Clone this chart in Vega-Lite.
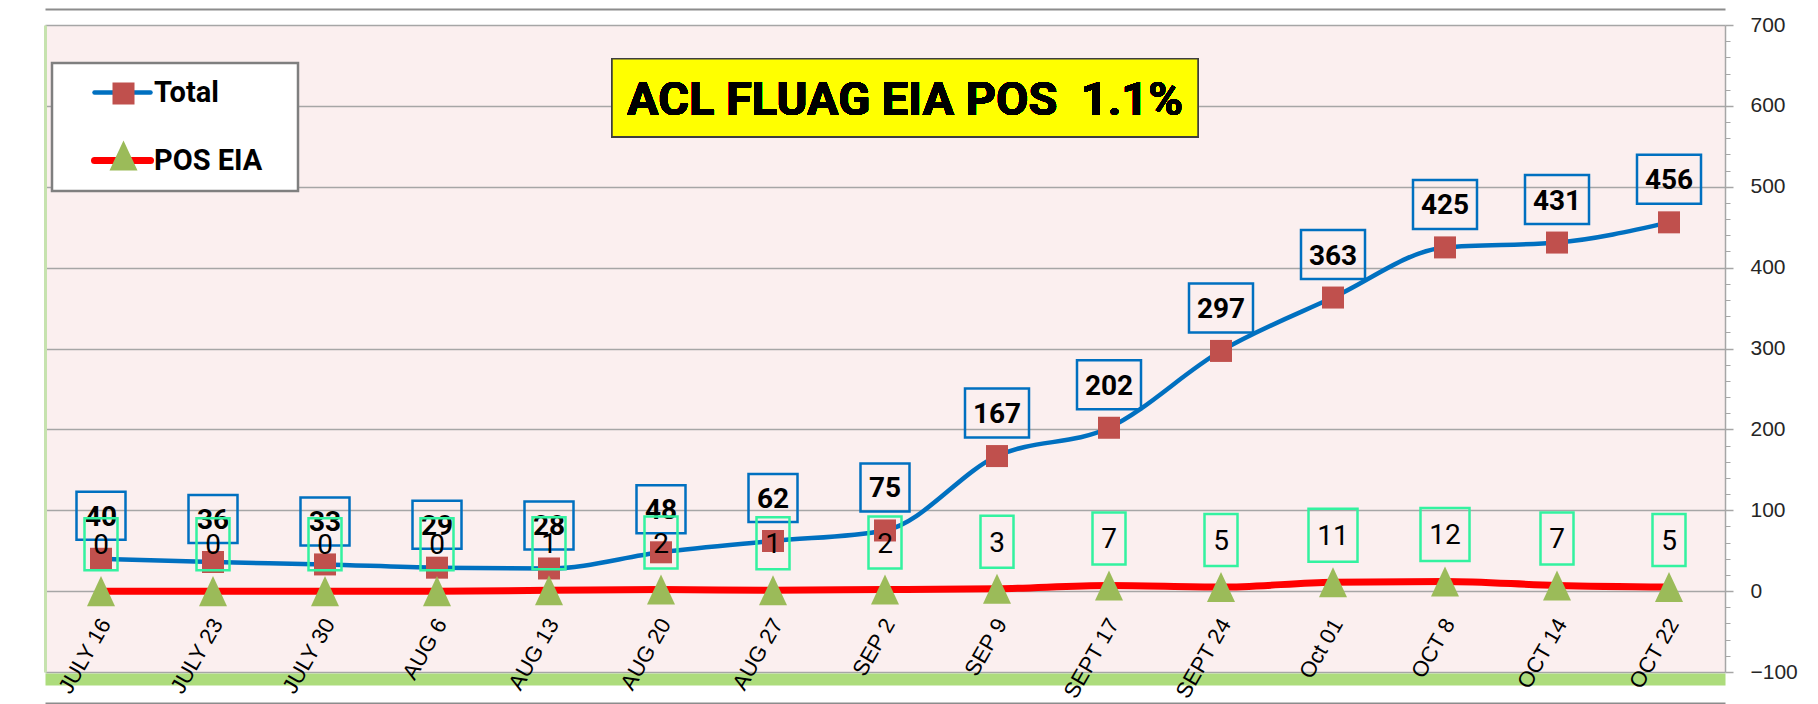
{
  "$schema": "https://vega.github.io/schema/vega-lite/v6.json",
  "width": 1680,
  "height": 647,
  "autosize": {"type": "none"},
  "padding": {"left": 45, "top": 25, "right": 93, "bottom": 32},
  "background": "#FFFFFF",
  "config": {"view": {"fill": "#FBEFEF", "stroke": null}, "font": "Liberation Sans"},
  "data": {
    "values": [
      {"date": "JULY 16", "series": "Total", "value": 40},
      {"date": "JULY 23", "series": "Total", "value": 36},
      {"date": "JULY 30", "series": "Total", "value": 33},
      {"date": "AUG 6", "series": "Total", "value": 29},
      {"date": "AUG 13", "series": "Total", "value": 28},
      {"date": "AUG 20", "series": "Total", "value": 48},
      {"date": "AUG 27", "series": "Total", "value": 62},
      {"date": "SEP 2", "series": "Total", "value": 75},
      {"date": "SEP 9", "series": "Total", "value": 167},
      {"date": "SEPT 17", "series": "Total", "value": 202},
      {"date": "SEPT 24", "series": "Total", "value": 297},
      {"date": "Oct 01", "series": "Total", "value": 363},
      {"date": "OCT 8", "series": "Total", "value": 425},
      {"date": "OCT 14", "series": "Total", "value": 431},
      {"date": "OCT 22", "series": "Total", "value": 456},
      {"date": "JULY 16", "series": "POS EIA", "value": 0},
      {"date": "JULY 23", "series": "POS EIA", "value": 0},
      {"date": "JULY 30", "series": "POS EIA", "value": 0},
      {"date": "AUG 6", "series": "POS EIA", "value": 0},
      {"date": "AUG 13", "series": "POS EIA", "value": 1},
      {"date": "AUG 20", "series": "POS EIA", "value": 2},
      {"date": "AUG 27", "series": "POS EIA", "value": 1},
      {"date": "SEP 2", "series": "POS EIA", "value": 2},
      {"date": "SEP 9", "series": "POS EIA", "value": 3},
      {"date": "SEPT 17", "series": "POS EIA", "value": 7},
      {"date": "SEPT 24", "series": "POS EIA", "value": 5},
      {"date": "Oct 01", "series": "POS EIA", "value": 11},
      {"date": "OCT 8", "series": "POS EIA", "value": 12},
      {"date": "OCT 14", "series": "POS EIA", "value": 7},
      {"date": "OCT 22", "series": "POS EIA", "value": 5}
    ]
  },
  "resolve": {"axis": {"x": "independent", "y": "independent"}},
  "layer": [
    {
      "mark": {"type": "line", "interpolate": "monotone", "strokeCap": "round", "strokeJoin": "round"},
      "encoding": {
        "x": {"field": "date", "type": "nominal",
          "scale": {"type": "point", "padding": 0.5, "domain": ["JULY 16","JULY 23","JULY 30","AUG 6","AUG 13","AUG 20","AUG 27","SEP 2","SEP 9","SEPT 17","SEPT 24","Oct 01","OCT 8","OCT 14","OCT 22"]},
          "axis": {"orient": "bottom", "offset": -52, "domain": false, "ticks": false, "grid": false, "labelAngle": -60, "labelAlign": "right", "labelBaseline": "middle", "labelFont": "Liberation Sans", "labelFontSize": 22, "labelColor": "#000000", "labelPadding": 0, "labelOffset": 4, "labelOverlap": false, "labelBound": false, "labelLimit": 300, "title": null, "zindex": 1}},
        "y": {"field": "value", "type": "quantitative", "scale": {"domain": [-100, 700], "nice": false, "zero": false},
          "axis": {"orient": "right", "values": [-100, 0, 100, 200, 300, 400, 500, 600, 700], "grid": true, "gridColor": "#A6A6A6", "gridWidth": 1.5, "domain": true, "domainColor": "#A6A6A6", "domainWidth": 1.5, "ticks": true, "tickSize": 8, "tickColor": "#A6A6A6", "tickWidth": 1.5, "labelFont": "Liberation Sans", "labelFontSize": 21, "labelColor": "#262626", "labelPadding": 17, "title": null}},
        "color": {"field": "series", "type": "nominal", "sort": ["Total", "POS EIA"], "scale": {"range": ["#0070C0", "#FF0000"]},
          "legend": {"orient": "none", "legendX": 7, "legendY": 38, "title": ".", "titleOrient": "right", "titleFontSize": 1, "titleOpacity": 0, "titlePadding": 20,
            "padding": 15, "rowPadding": 38,
            "symbolType": "M-1,0H1", "symbolSize": 3136, "symbolOffset": 41, "symbolStrokeWidth": 1,
            "labelOffset": 17, "labelFont": "Roboto", "labelFontSize": 29, "labelFontWeight": "bold", "labelColor": "#000000", "labelLimit": 400,
            "fillColor": "#FFFFFF", "strokeColor": "#7F7F7F",
            "encode": {"symbols": {"update": {"strokeWidth": {"signal": "datum.value === 'Total' ? 4.5 : 7"}, "strokeCap": {"value": "round"}, "fill": {"value": "transparent"}}}, "legend": {"update": {"strokeWidth": {"value": 2.5}}}}}},
        "strokeWidth": {"condition": {"test": "datum.series === 'Total'", "value": 4.5}, "value": 7}
      }
    },
    {
      "mark": {"type": "point", "filled": true, "size": 3136, "opacity": 1, "strokeWidth": 0},
      "encoding": {
        "x": {"field": "date", "type": "nominal",
          "axis": {"orient": "bottom", "offset": 7, "domain": true, "domainColor": "#92D050", "domainWidth": 12, "domainOpacity": 0.75, "ticks": false, "labels": false, "grid": false, "title": null}},
        "y": {"field": "value", "type": "quantitative",
          "axis": {"orient": "right", "values": [-80,-60,-40,-20,20,40,60,80,120,140,160,180,220,240,260,280,320,340,360,380,420,440,460,480,520,540,560,580,620,640,660,680], "domain": false, "grid": false, "labels": false, "ticks": true, "tickSize": 5, "tickColor": "#A6A6A6", "tickWidth": 1, "title": null}},
        "fill": {"field": "series", "type": "nominal", "scale": {"domain": ["Total", "POS EIA"], "range": ["#C0504D", "#9BBB59"]},
          "legend": {"orient": "none", "legendX": 7, "legendY": 38, "title": null, "padding": 2, "rowPadding": 18,
            "symbolSize": 3136, "symbolOffset": 41, "symbolStrokeWidth": 1,
            "labelOffset": 40, "labelFont": "Roboto", "labelFontSize": 29, "labelFontWeight": "bold", "labelOpacity": 0, "labelLimit": 400,
            "encode": {"symbols": {"update": {"strokeWidth": {"value": 0}}}}}},
        "shape": {"field": "series", "type": "nominal", "scale": {"domain": ["Total", "POS EIA"], "range": ["M-0.393,-0.393H0.393V0.393H-0.393Z", "M0,-0.536L0.5,0.536L-0.5,0.536Z"]},
          "legend": {"orient": "none", "legendX": 7, "legendY": 38, "title": null, "padding": 2, "rowPadding": 18,
            "symbolSize": 3136, "symbolOffset": 41, "symbolStrokeWidth": 1,
            "labelOffset": 40, "labelFont": "Roboto", "labelFontSize": 29, "labelFontWeight": "bold", "labelOpacity": 0, "labelLimit": 400,
            "encode": {"symbols": {"update": {"strokeWidth": {"value": 0}}}}}}
      }
    },
    {
      "transform": [{"filter": "datum.series === 'Total'"}],
      "mark": {"type": "point", "filled": false, "stroke": "#0070C0", "strokeWidth": 2.5, "size": 4, "opacity": 1, "yOffset": -43},
      "encoding": {
        "x": {"field": "date", "type": "nominal",
          "axis": {"orient": "top", "offset": 16, "domain": true, "domainColor": "#8C8C8C", "domainWidth": 2, "ticks": false, "labels": false, "grid": false, "title": null}},
        "y": {"field": "value", "type": "quantitative",
          "axis": {"orient": "left", "domain": true, "domainColor": "#C6E2AE", "domainWidth": 3, "ticks": false, "labels": false, "grid": false, "title": null}},
        "shape": {"condition": {"test": "datum.value >= 100", "value": "M-32,-24.5H32V24.5H-32Z"}, "value": "M-24.5,-24H24.5V24H-24.5Z"}
      }
    },
    {
      "transform": [{"filter": "datum.series === 'Total'"}],
      "mark": {"type": "text", "font": "Roboto", "fontSize": 28, "fontWeight": "bold", "align": "center", "baseline": "middle", "yOffset": -41, "color": "#000000"},
      "encoding": {
        "x": {"field": "date", "type": "nominal",
          "axis": {"orient": "bottom", "offset": 31, "domain": true, "domainColor": "#8C8C8C", "domainWidth": 2, "ticks": false, "labels": false, "grid": false, "title": null}},
        "y": {"field": "value", "type": "quantitative", "axis": null},
        "text": {"field": "value", "type": "quantitative"}
      }
    },
    {
      "transform": [{"filter": "datum.series === 'POS EIA'"}],
      "mark": {"type": "point", "filled": false, "stroke": "#33F2A0", "strokeWidth": 2.5, "size": 4, "opacity": 1, "yOffset": -47},
      "encoding": {
        "x": {"field": "date", "type": "nominal", "axis": null},
        "y": {"field": "value", "type": "quantitative", "axis": null},
        "shape": {"condition": {"test": "datum.value >= 10", "value": "M-24.5,-26.5H24.5V26.5H-24.5Z"}, "value": "M-16.5,-26H16.5V26H-16.5Z"}
      }
    },
    {
      "transform": [{"filter": "datum.series === 'POS EIA'"}],
      "mark": {"type": "text", "font": "Roboto", "fontSize": 28, "align": "center", "baseline": "middle", "yOffset": -45, "color": "#000000"},
      "encoding": {
        "x": {"field": "date", "type": "nominal", "axis": null},
        "y": {"field": "value", "type": "quantitative", "axis": null},
        "text": {"field": "value", "type": "quantitative"}
      }
    },
    {
      "mark": {"type": "point", "filled": true, "fill": "#FFFF00", "stroke": "#3F3F3F", "strokeWidth": 1.5, "size": 4, "opacity": 1, "shape": "M-293,-39H293V39H-293Z", "xOffset": 20},
      "encoding": {
        "x": {"datum": "SEP 2", "type": "nominal", "axis": null},
        "y": {"datum": 610, "type": "quantitative", "axis": null}
      }
    },
    {
      "mark": {"type": "text", "text": "ACL FLUAG EIA POS\u00a0 1.1%", "font": "Roboto", "fontSize": 47, "fontWeight": "bold", "align": "center", "baseline": "middle", "xOffset": 20, "yOffset": 3, "color": "#000000"},
      "encoding": {
        "x": {"datum": "SEP 2", "type": "nominal", "axis": null},
        "y": {"datum": 610, "type": "quantitative", "axis": null}
      }
    }
  ]
}
